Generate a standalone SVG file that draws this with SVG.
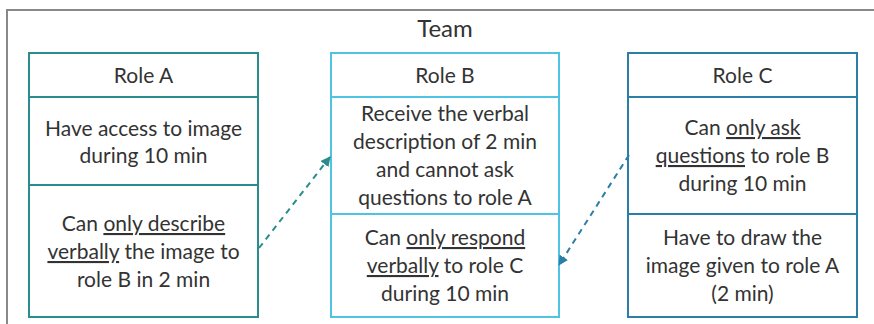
<svg xmlns="http://www.w3.org/2000/svg" width="874" height="324" viewBox="0 0 874 324">
<style>
text{font-family:Lato,"Open Sans",sans-serif;font-size:21px;fill:#333;text-anchor:middle}
.u{text-decoration:underline}
.a{fill:#fff;stroke:#2a8c8c;stroke-width:2}
.b{fill:#fff;stroke:#4ec4e2;stroke-width:2}
.c{fill:#fff;stroke:#2b7fa6;stroke-width:2}
.la{stroke:#2a8c8c;stroke-width:2}
.lb{stroke:#4ec4e2;stroke-width:2}
.lc{stroke:#2b7fa6;stroke-width:2}
</style>
<defs>
<marker id="ma" viewBox="0 0 10 10" refX="9" refY="5" markerWidth="5" markerHeight="5" orient="auto"><path d="M0,0 L10,5 L0,10 z" fill="#2a8c8c"/></marker>
<marker id="mc" viewBox="0 0 10 10" refX="9" refY="5" markerWidth="5" markerHeight="5" orient="auto"><path d="M0,0 L10,5 L0,10 z" fill="#2b7fa6"/></marker>
</defs>
<g id="team">
<path d="M7,330 V10 H880" fill="none" stroke="#888" stroke-width="2"/>
<text x="445" y="37" style="font-size:24px">Team</text>
</g>
<g id="roleA">
<rect class="a" x="29" y="53" width="229" height="264"/>
<line class="la" x1="29" y1="97" x2="258" y2="97"/>
<line class="la" x1="29" y1="185" x2="258" y2="185"/>
<text x="143.5" y="83">Role A</text>
<text x="143.5" y="136">Have access to image</text>
<text x="143.5" y="163">during 10 min</text>
<text x="143.5" y="231">Can <tspan class="u">only describe</tspan></text>
<text x="143.5" y="259"><tspan class="u">verbally</tspan> the image to</text>
<text x="143.5" y="287">role B in 2 min</text>
</g>
<g id="roleB">
<rect class="b" x="331" y="53" width="228" height="264"/>
<line class="lb" x1="331" y1="97" x2="559" y2="97"/>
<line class="lb" x1="331" y1="214" x2="559" y2="214"/>
<text x="445" y="83">Role B</text>
<text x="445" y="121">Receive the verbal</text>
<text x="445" y="149">description of 2 min</text>
<text x="445" y="177">and cannot ask</text>
<text x="445" y="205">questions to role A</text>
<text x="445" y="245">Can <tspan class="u">only respond</tspan></text>
<text x="445" y="273"><tspan class="u">verbally</tspan> to role C</text>
<text x="445" y="301">during 10 min</text>
</g>
<g id="roleC">
<rect class="c" x="628" y="53" width="229" height="264"/>
<line class="lc" x1="628" y1="97" x2="857" y2="97"/>
<line class="lc" x1="628" y1="214" x2="857" y2="214"/>
<text x="742.5" y="83">Role C</text>
<text x="742.5" y="135">Can <tspan class="u">only ask</tspan></text>
<text x="742.5" y="163"><tspan class="u">questions</tspan> to role B</text>
<text x="742.5" y="191">during 10 min</text>
<text x="742.5" y="245">Have to draw the</text>
<text x="742.5" y="273">image given to role A</text>
<text x="742.5" y="301">(2 min)</text>
</g>
<g id="connectors" fill="none" stroke-width="2" stroke-dasharray="6,5">
<line x1="259" y1="248" x2="330" y2="157" stroke="#2a8c8c" marker-end="url(#ma)"/>
<line x1="629" y1="155" x2="559" y2="265" stroke="#2b7fa6" marker-end="url(#mc)"/>
</g>
</svg>
